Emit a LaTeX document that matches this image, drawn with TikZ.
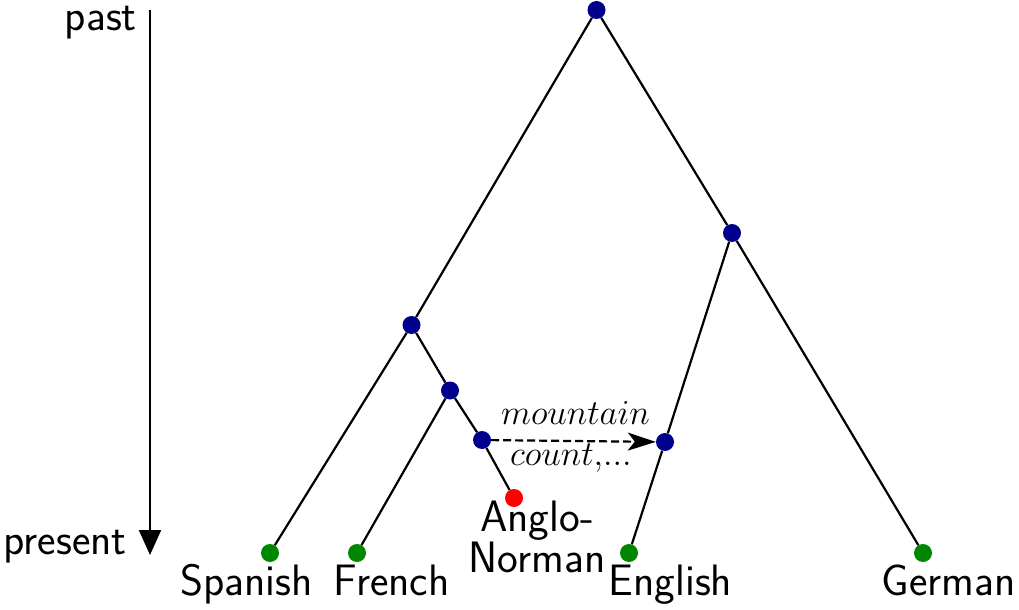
\documentclass[tikz,border=0pt]{standalone}
\usepackage{fix-cm}
\usepackage{fontspec}
\usetikzlibrary{arrows.meta}
\definecolor{nodeblue}{RGB}{0,0,140}
\definecolor{leafgreen}{RGB}{0,135,0}
\definecolor{hybridred}{RGB}{255,0,0}
\begin{document}
\begin{tikzpicture}[x=1bp,y=-1bp,
  dotnode/.style={circle,inner sep=0pt,minimum size=18bp},
  innernode/.style={dotnode,fill=nodeblue},
  leafnode/.style={dotnode,fill=leafgreen},
  hybridnode/.style={dotnode,fill=hybridred},
  branch/.style={line width=2.2bp,black},
  lbl/.style={font=\sffamily\fontsize{44bp}{35bp}\selectfont,inner sep=0pt},
  mlbl/.style={font=\fontsize{35bp}{40bp}\selectfont,inner sep=0pt},
  borrow/.style={line width=2.2bp,dash pattern=on 8bp off 4bp,-{Stealth[length=28bp,width=18bp,inset=7bp]}},
  timeaxis/.style={line width=2.2bp,-{Triangle[length=25bp,width=22bp]}}]
\useasboundingbox (0,0) rectangle (1019,610);
% internal nodes
\node[innernode] (root) at (596.5,10) {};
\node[innernode] (germ) at (732,233) {};
\node[innernode] (rom) at (411.5,325) {};
\node[innernode] (fa) at (450,390.5) {};
\node[innernode] (anp) at (482,440) {};
\node[innernode] (engi) at (665,442) {};
% leaves
\node[leafnode] (spa) at (270,553) {};
\node[leafnode] (fre) at (357,553) {};
\node[hybridnode] (an) at (514,498) {};
\node[leafnode] (eng) at (629,553) {};
\node[leafnode] (ger) at (923,553) {};
% branches
\draw[branch] (root) -- (rom);
\draw[branch] (root) -- (germ);
\draw[branch] (rom) -- (spa);
\draw[branch] (rom) -- (fa);
\draw[branch] (fa) -- (fre);
\draw[branch] (fa) -- (anp);
\draw[branch] (anp) -- (an);
\draw[branch] (germ) -- (engi);
\draw[branch] (engi) -- (eng);
\draw[branch] (germ) -- (ger);
% borrowing
\draw[borrow] (anp) -- (engi);
\node[mlbl,anchor=base] (mount) at (575.5,424) {$mountain$};
\node[mlbl,anchor=base] (count) at (571,465) {$count{,}...$};
% labels
\node[lbl,anchor=base] (spal) at (246.5,595) {Spanish};
\node[lbl,anchor=base] (frel) at (391.5,595) {French};
\node[lbl,anchor=base] (engl) at (670.5,595) {English};
\node[lbl,anchor=base] (gerl) at (948.5,595) {German};
\node[lbl,anchor=base,align=center] (anl) at (537,572) {Anglo-\\Norman};
% time axis
\coordinate (axtop) at (150,10);
\coordinate (axbot) at (150,555);
\draw[timeaxis] (axtop) -- (axbot);
\node[lbl,anchor=base east] (past) at (137,31) {past};
\node[lbl,anchor=base east] (present) at (127,554) {present};
\end{tikzpicture}
\end{document}
